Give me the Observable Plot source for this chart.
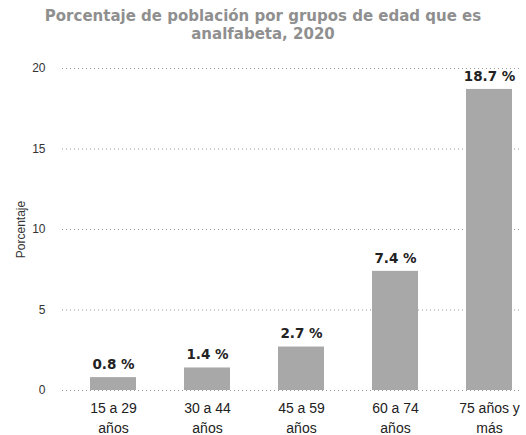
<!DOCTYPE html>
<html>
<head>
<meta charset="utf-8">
<script src="https://cdn.jsdelivr.net/npm/d3@7"></script>
<script src="https://cdn.jsdelivr.net/npm/@observablehq/plot@0.6"></script>
<style>
  html, body { margin: 0; padding: 0; background: #fff; }
  #title { width: 526px; box-sizing: border-box; padding-top: 7px; height: 48px;
    font-family: "DejaVu Sans", Verdana, sans-serif; font-weight: bold; font-size: 15px;
    line-height: 18px; color: #8f8f8f; text-align: center; }
  #chart svg { display: block; }
</style>
</head>
<body>
<div id="title">Porcentaje de población por grupos de edad que es<br>analfabeta, 2020</div>
<div id="chart"></div>
<script>
const categories = ["15 a 29 años", "30 a 44 años", "45 a 59 años", "60 a 74 años", "75 años y más"];
const tickLabels = ["15 a 29\naños", "30 a 44\naños", "45 a 59\naños", "60 a 74\naños", "75 años y\nmás"];
const values = [0.8, 1.4, 2.7, 7.4, 18.7];
const yTicks = [0, 5, 10, 15, 20];

const data = categories.map((c, i) => ({cat: c, label: tickLabels[i], value: values[i]}));

const chart = Plot.plot({
  width: 526,
  height: 387,
  marginLeft: 62,
  marginRight: 4,
  marginTop: 20,
  marginBottom: 45,
  style: {fontFamily: "Liberation Sans, Arial, sans-serif", background: "#fff"},
  x: {domain: categories, paddingInner: 0.515, paddingOuter: 0.2, align: 0.72},
  y: {domain: [0, 20]},
  marks: [
    Plot.gridY(yTicks, {stroke: "#999", strokeOpacity: 1, strokeDasharray: "1,3"}),
    Plot.barY(data, {x: "cat", y: "value", fill: "#a8a8a8"}),
    Plot.text(data, {x: "cat", y: "value", text: d => d.value.toFixed(1) + " %", dy: -13,
      fontFamily: "DejaVu Sans, Verdana, sans-serif", fontWeight: "bold", fontSize: 13.5, fill: "#222"}),
    Plot.axisY(yTicks, {tickSize: 0, tickPadding: 17, fontSize: 12, fill: "#333",
      label: "Porcentaje", labelAnchor: "center", labelArrow: "none", labelOffset: 46}),
    Plot.axisX({tickSize: 0, tickPadding: 9, fontSize: 14, fill: "#222", lineHeight: 1.4,
      tickFormat: c => tickLabels[categories.indexOf(c)], label: null})
  ]
});
document.getElementById("chart").appendChild(chart);
</script>
</body>
</html>
